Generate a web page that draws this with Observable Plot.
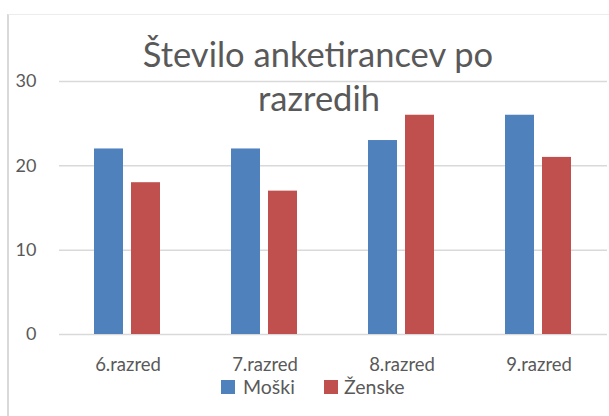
<!DOCTYPE html>
<html>
<head>
<meta charset="utf-8">
<script src="https://cdn.jsdelivr.net/npm/d3@7"></script>
<script src="https://cdn.jsdelivr.net/npm/@observablehq/plot@0.6"></script>
<style>
  body { margin: 0; background: #fff; }
  #wrap { position: relative; width: 609px; height: 416px; overflow: hidden; background: #fff; }
  #frame { position: absolute; left: 7px; top: 14px; width: 800px; height: 600px;
           border-left: 2px solid #d9d9d9; border-top: 1px solid #ececec; }
  #chart { position: absolute; left: 0; top: 0; }
  #overlay { position: absolute; left: 0; top: 0; pointer-events: none; }
</style>
</head>
<body>
<div id="wrap">
  <div id="frame"></div>
  <div id="chart"></div>
  <svg id="overlay" width="609" height="416"></svg>
</div>
<script>
const title = ["Število anketirancev po", "razredih"];
const categories = ["6.razred", "7.razred", "8.razred", "9.razred"];
const series = ["Moški", "Ženske"];
const moski = [22, 22, 23, 26];
const zenske = [18, 17, 26, 21];
const yTicks = [0, 10, 20, 30];
const colors = ["#4F81BD", "#C0504D"];

const data = [];
categories.forEach((c, i) => {
  data.push({cat: c, series: series[0], value: moski[i]});
  data.push({cat: c, series: series[1], value: zenske[i]});
});

const font = "Lato, 'Open Sans', sans-serif";

const chart = Plot.plot({
  width: 609,
  height: 380,
  marginLeft: 58,
  marginRight: 2,
  marginTop: 81,
  marginBottom: 46,
  style: {fontFamily: font, fontSize: "18px", color: "#595959", background: "transparent"},
  fx: {domain: categories, padding: 0, label: null},
  x: {domain: series, paddingInner: 0.2105, paddingOuter: 0.911, axis: null},
  y: {domain: [0, 30], label: null},
  color: {domain: series, range: colors},
  marks: [
    Plot.gridY(yTicks, {stroke: "#d9d9d9", strokeOpacity: 1, strokeWidth: 1.5}),
    Plot.barY(data, {fx: "cat", x: "series", y: "value", fill: "series"}),
    Plot.axisY(yTicks, {tickSize: 0, tickPadding: 23, fontSize: 18, label: null}),
    Plot.axisFx({anchor: "bottom", tickSize: 0, tickPadding: 23, fontSize: 18.5, label: null})
  ]
});
document.getElementById("chart").appendChild(chart);

// Title and legend overlay
const ov = d3.select("#overlay");
ov.append("text")
  .attr("x", 318).attr("y", 67)
  .attr("text-anchor", "middle")
  .attr("font-family", font).attr("font-size", 34.5).attr("fill", "#595959")
  .text(title[0]);
ov.append("text")
  .attr("x", 319).attr("y", 111)
  .attr("text-anchor", "middle")
  .attr("font-family", font).attr("font-size", 34.5).attr("fill", "#595959")
  .text(title[1]);

const legendPos = [{sx: 221, tx: 243}, {sx: 324, tx: 344}];
series.forEach((s, i) => {
  const g = ov.append("g");
  g.append("rect").attr("x", legendPos[i].sx).attr("y", 380).attr("width", 14).attr("height", 14)
    .attr("fill", colors[i]);
  g.append("text").attr("x", legendPos[i].tx).attr("y", 394)
    .attr("font-family", font).attr("font-size", 19.5).attr("fill", "#595959")
    .text(s);
});
</script>
</body>
</html>
